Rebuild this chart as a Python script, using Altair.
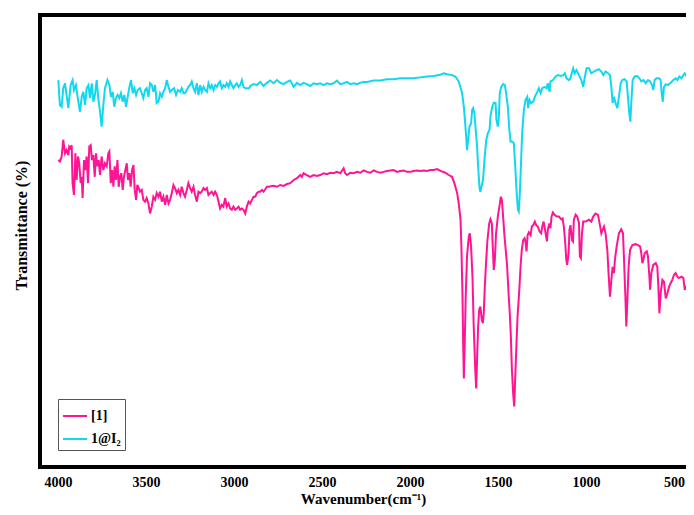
import altair as alt
import pandas as pd

# wavenumber (cm-1), transmittance (arbitrary %, no axis labels in original)
cyan_pts = [
    (3998, 85.6), (3989, 80.1), (3979, 79.7), (3970, 83.8), (3960, 84.9), (3951, 82.3), (3941, 79.4),
    (3928, 84.5), (3917, 85.6), (3909, 83.4), (3898, 84.5), (3884, 80.8), (3875, 78.6), (3865, 81.9),
    (3856, 83.0), (3846, 80.1), (3837, 83.8), (3827, 84.5), (3818, 81.6), (3808, 84.9), (3799, 80.8),
    (3790, 82.3), (3780, 85.6), (3771, 81.6), (3761, 78.6), (3752, 75.3), (3742, 80.1), (3733, 83.8),
    (3719, 85.6), (3708, 84.5), (3699, 81.9), (3689, 83.0), (3680, 79.7), (3670, 81.6), (3661, 82.3),
    (3651, 81.6), (3642, 82.7), (3632, 80.8), (3623, 82.3), (3613, 79.7), (3604, 81.9), (3594, 84.1),
    (3585, 85.6), (3575, 82.7), (3566, 83.8), (3556, 82.3), (3547, 83.4), (3534, 83.8), (3524, 82.7),
    (3515, 81.6), (3505, 83.4), (3496, 83.8), (3486, 81.9), (3477, 84.9), (3467, 84.5), (3458, 83.0),
    (3448, 84.5), (3439, 80.5), (3429, 80.8), (3420, 82.7), (3410, 81.9), (3401, 83.0), (3391, 83.8),
    (3382, 85.6), (3372, 84.1), (3363, 83.0), (3353, 83.4), (3340, 83.8), (3329, 82.3), (3319, 83.4),
    (3306, 83.0), (3297, 83.8), (3287, 82.7), (3278, 82.7), (3268, 83.4), (3259, 84.1), (3249, 84.5),
    (3240, 85.3), (3230, 83.8), (3221, 83.0), (3211, 84.9), (3202, 82.3), (3192, 84.5), (3183, 83.0),
    (3173, 84.1), (3164, 83.4), (3154, 83.0), (3145, 84.9), (3135, 83.8), (3126, 84.5), (3116, 83.4),
    (3107, 84.5), (3097, 84.1), (3088, 84.9), (3079, 85.3), (3069, 83.8), (3060, 84.5), (3050, 84.1),
    (3041, 84.9), (3031, 84.1), (3022, 85.3), (3012, 84.5), (3003, 83.8), (2993, 84.5), (2984, 84.9),
    (2974, 84.1), (2965, 84.5), (2955, 85.6), (2946, 84.1), (2936, 83.8), (2927, 83.8), (2914, 83.8),
    (2908, 84.3), (2889, 84.7), (2870, 84.5), (2851, 85.2), (2832, 84.3), (2813, 85.0), (2794, 85.5),
    (2775, 84.9), (2756, 85.6), (2737, 85.0), (2718, 84.7), (2699, 85.2), (2680, 85.5), (2661, 84.1),
    (2642, 85.0), (2623, 84.5), (2605, 85.0), (2586, 84.7), (2567, 84.3), (2548, 84.9), (2529, 84.7),
    (2510, 84.9), (2491, 84.5), (2472, 84.9), (2453, 84.7), (2434, 84.9), (2415, 85.5), (2396, 84.7),
    (2377, 84.9), (2358, 85.2), (2339, 84.7), (2320, 84.9), (2301, 84.7), (2282, 85.0), (2263, 85.2),
    (2244, 85.2), (2206, 85.5), (2168, 85.5), (2131, 85.8), (2093, 85.8), (2055, 86.0), (2017, 86.0),
    (1979, 86.0), (1941, 86.2), (1903, 86.4), (1865, 86.5),
    (1827, 86.8), (1808, 87.1), (1789, 86.9), (1761, 86.7), (1742, 86.4), (1723, 85.3), (1704, 82.7),
    (1694, 79.7), (1685, 75.3), (1679, 72.0), (1676, 70.1), (1670, 72.3), (1662, 75.3), (1653, 76.0),
    (1647, 79.0), (1641, 79.4), (1634, 78.2), (1628, 75.3), (1619, 70.9), (1613, 66.5), (1605, 61.7),
    (1600, 60.9), (1592, 62.4), (1585, 63.5), (1577, 67.9), (1567, 72.3), (1558, 73.8), (1548, 74.6),
    (1543, 77.5), (1533, 79.7), (1524, 80.6), (1514, 80.5), (1509, 76.8), (1501, 75.3), (1495, 77.5),
    (1490, 82.7), (1482, 84.1), (1471, 84.7), (1461, 84.5), (1454, 82.7), (1444, 79.7), (1437, 75.3),
    (1429, 72.0), (1420, 72.0), (1410, 71.6), (1402, 66.5), (1395, 61.3), (1387, 56.9), (1382, 56.5),
    (1376, 60.5), (1370, 66.5), (1363, 73.8), (1353, 79.0), (1344, 81.2), (1334, 81.9), (1329, 79.4),
    (1321, 81.2), (1312, 80.5), (1300, 80.8), (1291, 81.9), (1277, 83.0), (1268, 83.8), (1258, 82.7),
    (1249, 83.8), (1236, 84.1), (1224, 83.8), (1217, 84.9), (1207, 83.0), (1202, 85.3), (1188, 85.6),
    (1173, 86.4), (1160, 86.7), (1145, 86.5), (1129, 86.7), (1120, 87.1), (1111, 86.0), (1097, 85.6),
    (1088, 86.0), (1084, 86.7), (1073, 88.2), (1065, 87.1), (1054, 87.8), (1040, 86.7), (1027, 85.6),
    (1016, 84.1), (1008, 86.0), (997, 88.2), (983, 88.2), (970, 87.1), (955, 87.5), (940, 87.8),
    (927, 88.0), (913, 87.5), (902, 86.7), (889, 87.5), (875, 87.1), (864, 86.7), (856, 84.1),
    (849, 80.5), (841, 81.9), (832, 80.5), (822, 79.4), (813, 81.9), (803, 84.9), (794, 85.6),
    (781, 85.8), (769, 85.3), (762, 81.9), (754, 78.2), (748, 76.4), (743, 80.5), (735, 85.6),
    (724, 86.4), (709, 86.5), (697, 86.0), (686, 85.3), (674, 85.6), (661, 84.9), (648, 85.6),
    (636, 85.3), (625, 84.5), (618, 83.4), (610, 85.6), (599, 86.0), (585, 86.0), (576, 85.6),
    (570, 82.7), (564, 80.8), (557, 84.1), (547, 84.7), (534, 84.5), (519, 85.0), (504, 85.6),
    (491, 86.0), (481, 85.6), (470, 86.4), (458, 86.0), (447, 86.7), (439, 87.1), (428, 86.4),
    (415, 86.0), (401, 85.6), (390, 85.5),
]

pink_pts = [
    (3998, 67.9), (3989, 67.6), (3979, 68.7), (3970, 72.4), (3960, 69.4), (3951, 70.1), (3941, 69.0),
    (3936, 70.9), (3928, 70.5), (3922, 71.2), (3917, 62.8), (3909, 60.2), (3901, 69.4), (3894, 63.5),
    (3886, 68.7), (3879, 67.2), (3871, 62.8), (3865, 64.2), (3860, 59.5), (3852, 67.9), (3845, 65.7),
    (3837, 68.7), (3829, 62.8), (3822, 70.9), (3814, 71.2), (3807, 67.9), (3799, 69.0), (3791, 64.2),
    (3784, 69.4), (3776, 66.5), (3769, 67.9), (3761, 64.6), (3752, 68.7), (3742, 65.7), (3733, 67.2),
    (3723, 66.5), (3714, 69.4), (3708, 69.8), (3700, 62.8), (3693, 65.7), (3685, 62.0), (3678, 66.5),
    (3670, 63.5), (3662, 67.9), (3655, 62.0), (3647, 64.2), (3640, 65.0), (3632, 61.3), (3625, 64.2),
    (3617, 65.7), (3609, 67.2), (3602, 63.5), (3594, 65.0), (3587, 62.0), (3579, 65.7), (3571, 66.8),
    (3564, 61.3), (3556, 59.1), (3549, 62.4), (3541, 61.7), (3534, 60.9), (3524, 61.3), (3515, 59.1),
    (3505, 58.7), (3496, 59.5), (3486, 58.3), (3477, 56.1), (3467, 57.6), (3458, 59.8), (3448, 59.1),
    (3439, 60.6), (3429, 59.8), (3420, 60.9), (3410, 58.7), (3401, 59.8), (3391, 58.0), (3382, 60.2),
    (3372, 58.3), (3363, 59.1), (3353, 60.6), (3344, 62.4), (3335, 61.7), (3325, 60.6), (3316, 61.3),
    (3306, 60.2), (3297, 62.0), (3287, 60.6), (3278, 59.8), (3268, 61.3), (3259, 62.8), (3249, 61.7),
    (3240, 60.9), (3230, 62.0), (3221, 60.2), (3211, 58.7), (3202, 60.9), (3192, 60.6), (3183, 60.9),
    (3173, 61.7), (3164, 61.3), (3154, 61.7), (3145, 60.2), (3135, 60.6), (3126, 60.9), (3116, 60.2),
    (3107, 60.9), (3097, 60.2), (3088, 58.7), (3079, 57.2), (3069, 58.0), (3060, 57.6), (3050, 59.5),
    (3041, 57.6), (3031, 58.3), (3022, 57.2), (3012, 56.9), (3003, 57.6), (2993, 56.9), (2984, 57.2),
    (2974, 57.6), (2965, 56.9), (2955, 57.2), (2946, 56.9), (2936, 56.1), (2927, 57.6), (2917, 58.7),
    (2908, 58.3), (2898, 59.1), (2889, 59.8), (2879, 59.8), (2870, 60.6), (2860, 60.9), (2851, 60.9),
    (2841, 61.3), (2832, 60.9), (2823, 61.4), (2813, 62.0), (2804, 62.0), (2775, 62.2), (2756, 62.0),
    (2737, 62.4), (2718, 62.2), (2699, 62.6), (2680, 62.8), (2661, 63.5), (2642, 63.9), (2623, 64.6),
    (2614, 64.2), (2605, 65.0), (2586, 64.6), (2567, 64.2), (2548, 64.6), (2529, 64.4), (2510, 64.6),
    (2491, 65.0), (2472, 64.8), (2453, 65.1), (2434, 65.0), (2415, 65.3), (2396, 65.0), (2377, 66.1),
    (2368, 65.0), (2358, 64.6), (2339, 65.1), (2320, 65.0), (2301, 65.3), (2282, 65.1), (2263, 65.6),
    (2244, 65.3), (2225, 65.1), (2206, 65.6), (2187, 65.3), (2168, 65.1), (2150, 65.3), (2131, 65.5),
    (2112, 65.6), (2093, 65.7), (2074, 65.3), (2055, 65.5), (2036, 65.6), (2017, 65.3), (1998, 65.3),
    (1979, 65.5), (1960, 65.6), (1941, 65.5), (1922, 65.6), (1903, 65.5), (1884, 65.7), (1865, 65.7),
    (1846, 65.9), (1827, 65.5), (1799, 65.1), (1780, 64.6), (1761, 64.2), (1748, 62.8), (1732, 60.6),
    (1723, 58.3), (1713, 54.7), (1708, 48.8), (1702, 38.4), (1698, 27.4), (1694, 19.6), (1689, 27.4),
    (1683, 38.4), (1676, 46.6), (1666, 51.0), (1660, 51.7), (1653, 48.8), (1645, 42.1), (1638, 31.1),
    (1630, 22.2), (1624, 17.4), (1619, 23.7), (1613, 31.1), (1607, 34.8), (1600, 35.5), (1592, 32.5),
    (1586, 31.8), (1581, 34.0), (1575, 39.9), (1567, 45.8), (1560, 50.2), (1550, 53.9), (1543, 54.8),
    (1535, 53.9), (1530, 48.8), (1524, 43.6), (1518, 45.8), (1511, 51.7), (1501, 55.4), (1492, 57.6),
    (1484, 59.8), (1478, 59.1), (1471, 55.4), (1463, 51.0), (1456, 48.0), (1448, 44.3), (1440, 38.4),
    (1433, 34.0), (1427, 28.9), (1421, 21.5), (1414, 16.3), (1408, 13.4), (1402, 20.0), (1395, 27.4),
    (1389, 33.3), (1384, 36.2), (1378, 39.9), (1372, 44.3), (1365, 48.0), (1357, 50.2), (1349, 50.6),
    (1344, 49.9), (1338, 47.7), (1332, 51.3), (1325, 51.9), (1315, 51.3), (1308, 53.2), (1300, 53.5),
    (1291, 54.3), (1283, 53.5), (1274, 53.2), (1264, 52.1), (1255, 51.7), (1247, 53.5), (1241, 54.3),
    (1236, 53.2), (1228, 51.3), (1222, 49.9), (1217, 52.5), (1209, 53.9), (1202, 52.8), (1196, 55.4),
    (1188, 56.3), (1179, 55.8), (1167, 55.4), (1154, 55.4), (1141, 54.8), (1133, 55.0), (1126, 53.2),
    (1118, 49.5), (1112, 45.8), (1107, 44.7), (1099, 47.3), (1094, 52.5), (1088, 53.5), (1080, 50.2),
    (1074, 49.9), (1069, 54.7), (1059, 55.8), (1050, 55.4), (1040, 54.0), (1035, 46.6), (1029, 46.2),
    (1023, 51.7), (1016, 54.3), (1002, 54.3), (983, 54.7), (970, 54.3), (959, 55.4), (946, 56.1),
    (932, 55.8), (921, 53.5), (913, 51.7), (906, 52.4), (898, 53.2), (889, 51.7), (879, 48.0),
    (872, 42.9), (864, 37.7), (856, 41.4), (849, 44.3), (841, 42.9), (836, 45.8), (826, 48.8),
    (813, 51.7), (800, 52.6), (790, 51.7), (784, 45.8), (777, 38.4), (771, 31.1), (765, 37.0),
    (758, 44.3), (750, 48.0), (737, 49.1), (718, 49.3), (705, 49.1), (693, 48.8), (686, 47.3),
    (680, 45.1), (674, 45.8), (667, 47.3), (655, 47.7), (648, 46.6), (640, 42.1), (636, 39.2),
    (629, 42.9), (618, 44.7), (604, 45.1), (595, 44.3), (589, 39.9), (583, 34.0), (576, 38.4),
    (566, 41.4), (557, 41.0), (547, 37.3), (538, 38.4), (528, 39.9), (519, 40.7), (510, 41.4),
    (500, 42.5), (491, 42.9), (481, 42.1), (472, 41.8), (458, 42.1), (447, 41.8), (439, 39.2),
    (432, 39.9), (420, 39.9), (413, 39.6),
]

series_names = ["[1]", "1@I\u2082"]
series_colors = ["#ff1493", "#12d8ee"]
x_ticks = [4000, 3500, 3000, 2500, 2000, 1500, 1000, 500]

rows = [{"wn": w, "t": t, "series": series_names[0]} for w, t in pink_pts]
rows += [{"wn": w, "t": t, "series": series_names[1]} for w, t in cyan_pts]
df = pd.DataFrame(rows)

W, H = 646, 452
FONT = "Liberation Serif"

lines = alt.Chart(df).mark_line(strokeWidth=2, clip=True).encode(
    x=alt.X(
        "wn:Q",
        scale=alt.Scale(domain=[4102, 432], nice=False, zero=False),
        axis=alt.Axis(
            values=x_ticks, format="d", title="Wavenumber(cm\u207b\u00b9)", ticks=False, domain=False,
            grid=False, labelFont=FONT, labelFontWeight="bold", labelFontSize=14, labelColor="black",
            labelPadding=8, labelFlush=False, labelOverlap=False,
            titleFont=FONT, titleFontWeight="bold", titleFontSize=15, titleColor="black",
            titleY=36, titleBaseline="alphabetic",
        ),
    ),
    y=alt.Y(
        "t:Q",
        scale=alt.Scale(domain=[0, 100], nice=False, zero=False),
        axis=alt.Axis(
            labels=False, ticks=False, domain=False, grid=False, title="Transmittance (%)",
            titleFont=FONT, titleFontWeight="bold", titleFontSize=16, titleColor="black",
            titleX=-11, titleY=210,
        ),
    ),
    color=alt.Color(
        "series:N",
        scale=alt.Scale(domain=series_names, range=series_colors),
        legend=alt.Legend(
            orient="none", legendX=18, legendY=384, title=None,
            symbolType="stroke", symbolSize=576, symbolStrokeWidth=2,
            labelFont=FONT, labelFontWeight="bold", labelFontSize=14, labelColor="black",
            strokeColor="#555555", fillColor="white", padding=4, rowPadding=3, labelOffset=3,
        ),
    ),
)

one = pd.DataFrame({"k": [0]})
frame_left = alt.Chart(one).mark_rule(strokeWidth=4, color="black").encode(
    x=alt.value(0), y=alt.value(-2), y2=alt.value(H + 2))
frame_top = alt.Chart(one).mark_rule(strokeWidth=4, color="black").encode(
    x=alt.value(-2), x2=alt.value(W), y=alt.value(0))
frame_bottom = alt.Chart(one).mark_rule(strokeWidth=4, color="black").encode(
    x=alt.value(-2), x2=alt.value(W), y=alt.value(H))

chart = alt.layer(lines, frame_left, frame_top, frame_bottom).properties(
    width=W, height=H,
    autosize=alt.AutoSizeParams(type="none"),
    padding={"left": 32, "top": 7, "right": 0, "bottom": 40},
).configure_view(stroke=None)

chart.save("out.html", embed_options={"renderer": "svg", "actions": False})
